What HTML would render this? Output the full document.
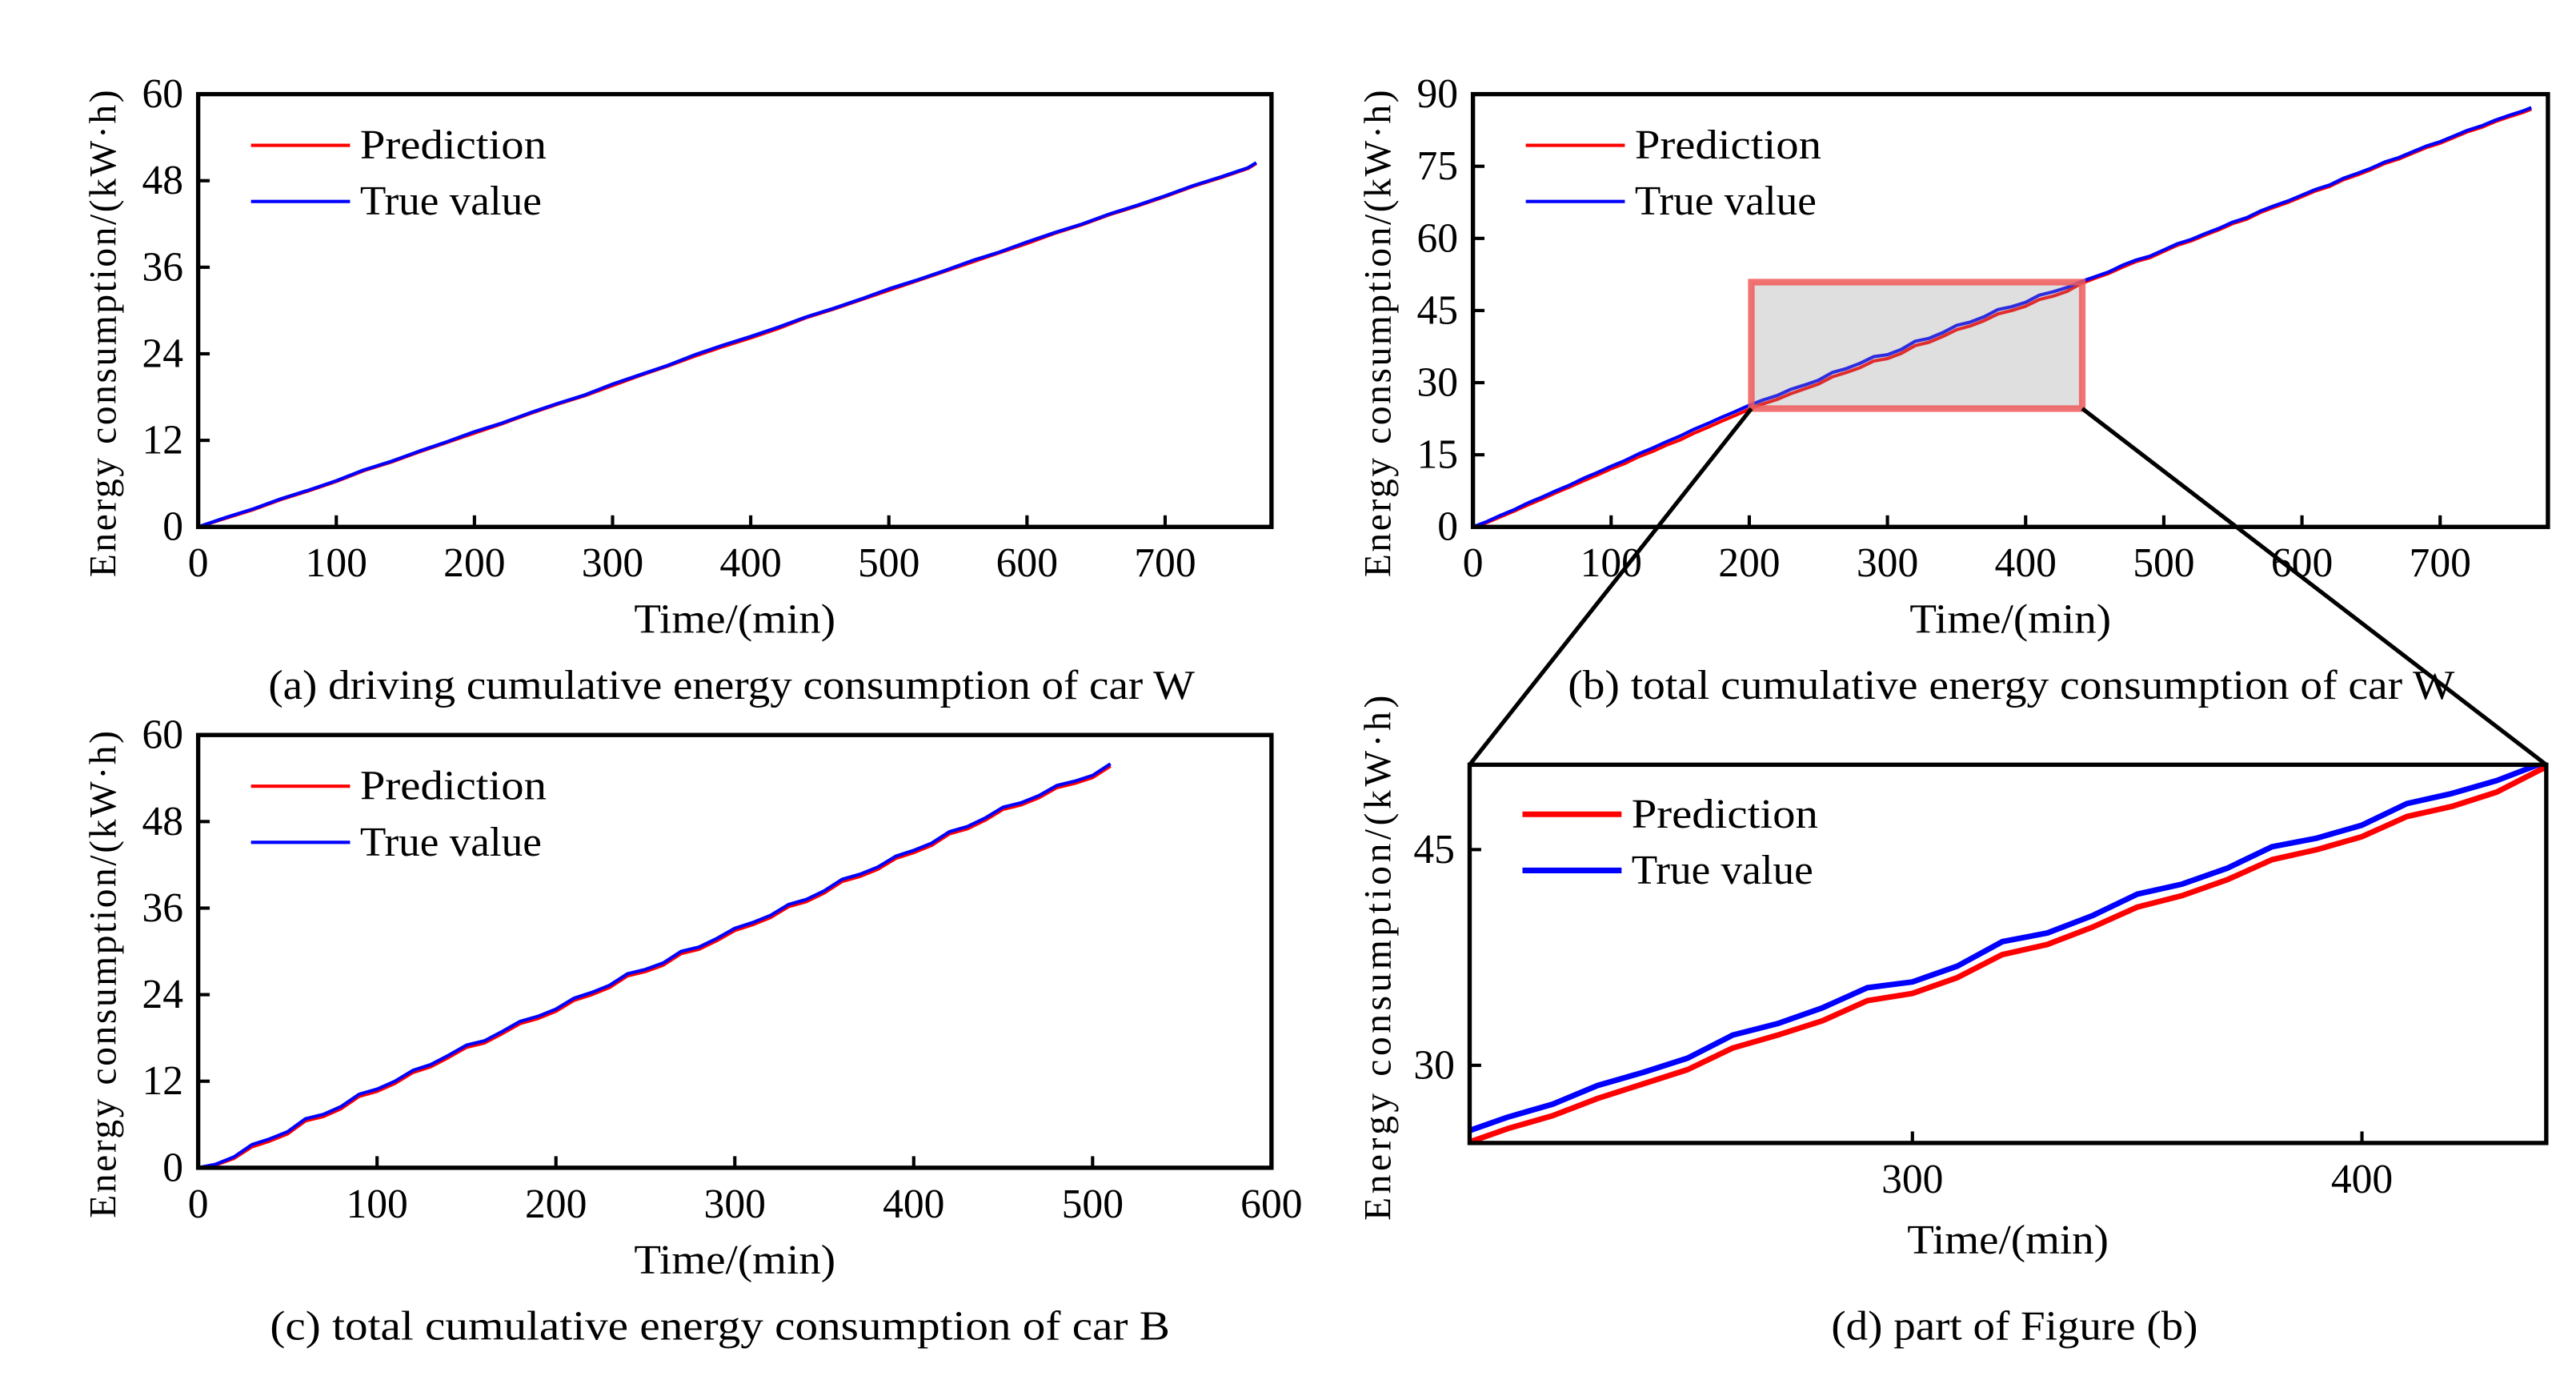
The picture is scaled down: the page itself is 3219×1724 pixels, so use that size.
<!DOCTYPE html>
<html><head><meta charset="utf-8"><style>html,body{margin:0;padding:0;background:#fff;overflow:hidden;width:3219px;height:1724px}svg{display:block}text{font-family:"Liberation Serif",serif;fill:#000}</style></head>
<body>
<svg id="fig" xmlns="http://www.w3.org/2000/svg" width="3219" height="1724" viewBox="0 0 1560 835.5"></svg>
<script>
// ---- data ----
const timeA=[0,20,40,60,80,100,120,140,160,180,200,220,240,260,280,300,320,340,360,380,400,420,440,460,480,500,520,540,560,580,600,620,640,660,680,700,720,740,760,766];
const trueA=[0,1.3,2.5,3.9,5.1,6.4,7.9,9.1,10.5,11.8,13.2,14.4,15.8,17.1,18.3,19.8,21.1,22.4,23.9,25.2,26.4,27.7,29.1,30.3,31.6,33.0,34.2,35.5,36.9,38.1,39.5,40.8,42.0,43.4,44.6,45.9,47.3,48.5,49.8,50.5];
const predA=[0,1.2,2.4,3.8,5.0,6.3,7.8,9.0,10.4,11.7,13.0,14.3,15.7,17.0,18.2,19.6,21.0,22.3,23.7,25.0,26.2,27.5,29.0,30.2,31.5,32.8,34.1,35.4,36.7,38.0,39.3,40.7,41.9,43.3,44.5,45.8,47.2,48.4,49.7,50.4];
const timeB=[0,10,20,30,40,50,60,70,80,90,100,110,120,130,140,150,160,170,180,190,200,210,220,230,240,250,260,270,280,290,300,310,320,330,340,350,360,370,380,390,400,410,420,430,440,450,460,470,480,490,500,510,520,530,540,550,560,570,580,590,600,610,620,630,640,650,660,670,680,690,700,710,720,730,740,750,760,766];
const trueB=[0,1.1,2.4,3.6,5.0,6.2,7.5,8.7,10.1,11.3,12.6,13.8,15.2,16.4,17.7,18.9,20.3,21.5,22.8,24.0,25.3,26.4,27.3,28.6,29.5,30.5,32.1,32.9,34.0,35.4,35.8,36.9,38.6,39.2,40.4,41.9,42.6,43.7,45.2,45.8,46.7,48.2,48.9,49.8,51.0,52.0,53.0,54.4,55.5,56.3,57.6,58.9,59.8,61.0,62.1,63.4,64.3,65.7,66.8,67.8,69.0,70.2,71.1,72.5,73.5,74.6,75.9,76.8,78.0,79.2,80.1,81.3,82.5,83.4,84.6,85.6,86.5,87.2];
const predB=[0,0.9,2.1,3.3,4.6,5.8,7.1,8.3,9.6,10.8,12.1,13.2,14.6,15.7,17.0,18.1,19.5,20.7,22.0,23.2,24.5,25.6,26.5,27.7,28.7,29.7,31.2,32.1,33.1,34.5,35.0,36.1,37.7,38.4,39.6,41.0,41.8,42.9,44.3,45.0,45.9,47.3,48.0,49.0,50.6,51.7,52.7,54.0,55.2,56.0,57.3,58.6,59.5,60.7,61.8,63.1,64.0,65.4,66.5,67.5,68.7,69.9,70.8,72.2,73.2,74.3,75.6,76.5,77.7,78.9,79.8,81.0,82.2,83.1,84.3,85.3,86.2,86.9];
const timeC=[0,10,20,30,40,50,60,70,80,90,100,110,120,130,140,150,160,170,180,190,200,210,220,230,240,250,260,270,280,290,300,310,320,330,340,350,360,370,380,390,400,410,420,430,440,450,460,470,480,490,500,510];
const trueC=[0,0.5,1.5,3.2,4.0,5.0,6.8,7.4,8.5,10.2,10.9,12.0,13.5,14.3,15.6,17.0,17.6,18.9,20.3,21.0,22.0,23.5,24.3,25.3,26.9,27.5,28.4,30.0,30.6,31.8,33.2,34.0,35.0,36.5,37.2,38.4,40.0,40.7,41.7,43.2,44.0,45.0,46.6,47.3,48.5,50.0,50.6,51.6,53.0,53.6,54.4,56.0];
const predC=[0,0.4,1.3,2.9,3.7,4.7,6.5,7.1,8.2,9.9,10.6,11.7,13.2,14.0,15.3,16.7,17.3,18.6,20.0,20.7,21.7,23.2,24.0,25.0,26.6,27.2,28.1,29.7,30.3,31.5,32.9,33.7,34.7,36.2,36.9,38.1,39.7,40.4,41.4,42.9,43.7,44.7,46.3,47.0,48.2,49.7,50.3,51.3,52.7,53.3,54.1,55.7];
const xTicksAB=[0,100,200,300,400,500,600,700];
const xTicksC=[0,100,200,300,400,500,600];
const xTicksD=[300,400];
const yTicksA=[0,12,24,36,48,60];
const yTicksB=[0,15,30,45,60,75,90];
const yTicksD=[30,45];

const NS="http://www.w3.org/2000/svg";
const svg=document.getElementById('fig');
function mk(tag,attrs,parent){const e=document.createElementNS(NS,tag);for(const k in attrs)e.setAttribute(k,attrs[k]);(parent||svg).appendChild(e);return e;}
function txt(s,attrs,parent){const e=mk('text',attrs,parent);e.textContent=s;return e;}

function panel(p){
  const g=mk('g',{});
  
  
  const sx=v=>p.x0+(v-p.xmin)/(p.xmax-p.xmin)*(p.x1-p.x0);
  const sy=v=>p.y1-(v-p.ymin)/(p.ymax-p.ymin)*(p.y1-p.y0);
  const clipId='clip'+p.id;
  const cp=mk('clipPath',{id:clipId},g);
  mk('rect',{x:p.x0,y:p.y0,width:p.x1-p.x0,height:p.y1-p.y0},cp);
  const series=[[p.pred,'#ff0000','prediction-line'],[p.tru,'#0000ff','true-value-line']];
  series.forEach(s=>{
    let d='';
    p.t.forEach((t,i)=>{d+=(i?'L':'M')+sx(t).toFixed(2)+','+sy(s[0][i]).toFixed(2);});
    const path=mk('path',{d:d,fill:'none',stroke:s[1],'stroke-width':p.lw,'stroke-linejoin':'round','clip-path':'url(#'+clipId+')'},g);
    
    
  });
  const fr=mk('rect',{x:p.x0,y:p.y0,width:p.x1-p.x0,height:p.y1-p.y0,fill:'none',stroke:'#000','stroke-width':2.6},g);
  
  
  p.xt.forEach(v=>{
    const x=sx(v);
    if(v>p.xmin&&v<p.xmax)mk('line',{x1:x,x2:x,y1:p.y1,y2:p.y1-7,stroke:'#000','stroke-width':2},g);
    const t=txt(String(v),{x:x,y:p.y1+30,'font-size':25,'text-anchor':'middle'},g);
    
    
  });
  p.yt.forEach(v=>{
    const y=sy(v);
    if(v>p.ymin&&v<p.ymax)mk('line',{x1:p.x0,x2:p.x0+7,y1:y,y2:y,stroke:'#000','stroke-width':2},g);
    const t=txt(String(v),{x:p.x0-9,y:y+8,'font-size':25,'text-anchor':'end'},g);
    
    
  });
  const xt=txt('Time/(min)',{x:(p.x0+p.x1)/2,y:p.xTitleY,'font-size':25,'text-anchor':'middle',textLength:122,lengthAdjust:'spacingAndGlyphs'},g);
  
  
  const yt=txt('Energy consumption/(kW·h)',{x:0,y:0,'font-size':23,'text-anchor':'middle',textLength:p.yLen,lengthAdjust:'spacing',transform:'translate('+(p.yTitleX)+','+p.yTitleC+') rotate(-90)'},g);
  
  
  const cap=txt(p.caption,{x:p.capX,y:p.capY,'font-size':25,'text-anchor':'middle',textLength:p.capLen,lengthAdjust:'spacingAndGlyphs'},g);
  
  
  const lg=mk('g',{},g);
  
  
  [['Prediction','#ff0000',p.ly,113],['True value','#0000ff',p.ly+34,110]].forEach(e=>{
    mk('line',{x1:p.lx,x2:p.lx+60,y1:e[2],y2:e[2],stroke:e[1],'stroke-width':p.lw},lg);
    const t=txt(e[0],{x:p.lx+66,y:e[2]+8,'font-size':25,textLength:e[3],lengthAdjust:'spacingAndGlyphs'},lg);
    
    
  });
  return {sx,sy};
}

panel({id:'a',name:'panel-a',x0:120,x1:770,y0:57,y1:319,xmin:0,xmax:777,ymin:0,ymax:60,t:timeA,tru:trueA,pred:predA,xt:xTicksAB,yt:yTicksA,lw:2,
  xTitleY:383,yTitleX:70,yTitleC:202,yLen:295,caption:'(a) driving cumulative energy consumption of car W',capLen:561,capX:443,capY:423,lx:152,ly:88});
const B=panel({id:'b',name:'panel-b',x0:892,x1:1543,y0:57,y1:319,xmin:0,xmax:778,ymin:0,ymax:90,t:timeB,tru:trueB,pred:predB,xt:xTicksAB,yt:yTicksB,lw:2,
  xTitleY:383,yTitleX:842,yTitleC:202,yLen:295,caption:'(b) total cumulative energy consumption of car W',capLen:537,capX:1218,capY:423,lx:924,ly:88});
panel({id:'c',name:'panel-c',x0:120,x1:770,y0:445,y1:707,xmin:0,xmax:600,ymin:0,ymax:60,t:timeC,tru:trueC,pred:predC,xt:xTicksC,yt:yTicksA,lw:2,
  xTitleY:771,yTitleX:70,yTitleC:590,yLen:295,caption:'(c) total cumulative energy consumption of car B',capLen:545,capX:436,capY:811,lx:152,ly:476});
const D=panel({id:'d',name:'panel-d',x0:890,x1:1542,y0:463,y1:692,xmin:201.5,xmax:441,ymin:24.6,ymax:50.9,t:timeB,tru:trueB,pred:predB,xt:xTicksD,yt:yTicksD,lw:3.4,
  xTitleY:759,yTitleX:842,yTitleC:580,yLen:318,caption:'(d) part of Figure (b)',capLen:222,capX:1220,capY:811,lx:922,ly:493});
const zx0=B.sx(201.5),zx1=B.sx(441),zy0=B.sy(50.9),zy1=B.sy(24.6);
const zr=mk('rect',{x:zx0,y:zy0,width:zx1-zx0,height:zy1-zy0,fill:'rgba(150,150,150,0.3)',stroke:'rgba(240,90,90,0.85)','stroke-width':4});


const l1=mk('line',{x1:zx0,y1:zy1,x2:890,y2:463,stroke:'#000','stroke-width':2.5});


const l2=mk('line',{x1:zx1,y1:zy1,x2:1542,y2:463,stroke:'#000','stroke-width':2.5});


</script>
</body></html>
